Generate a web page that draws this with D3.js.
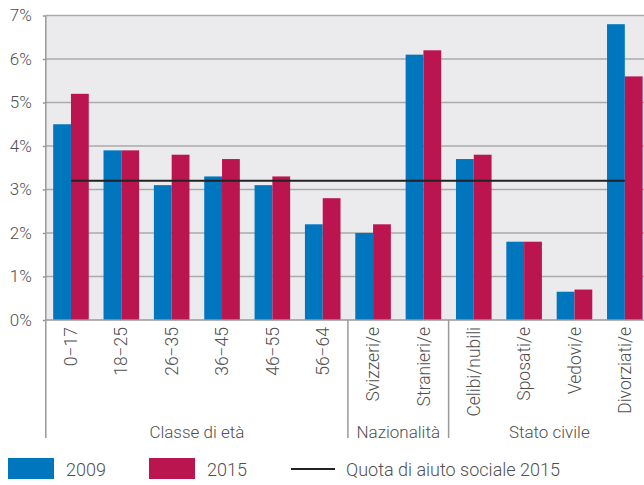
<!DOCTYPE html>
<html>
<head>
<meta charset="utf-8">
<script src="https://cdn.jsdelivr.net/npm/d3@7"></script>
<style>
  body { margin: 0; background: #fff; }
  text { font-family: Roboto, "Noto Sans", sans-serif; font-weight: 300; fill: #505050; }
</style>
</head>
<body>
<div class="graph"></div>
<script>
// categories and values (percent)
var categories = ["0\u221217", "18\u221225", "26\u221235", "36\u221245", "46\u221255", "56\u221264",
                  "Svizzeri/e", "Stranieri/e",
                  "Celibi/nubili", "Sposati/e", "Vedovi/e", "Divorziati/e"];
var values2009 = [4.5, 3.9, 3.1, 3.3, 3.1, 2.2, 2.0, 6.1, 3.7, 1.8, 0.65, 6.8];
var values2015 = [5.2, 3.9, 3.8, 3.7, 3.3, 2.8, 2.2, 6.2, 3.8, 1.8, 0.7, 5.6];
var quota2015 = 3.2;

// groups: label, first category index, last category index
var groupNames = ["Classe di et\u00e0", "Nazionalit\u00e0", "Stato civile"];
var groupStart = [0, 6, 8];
var groupEnd = [5, 7, 11];

var yTicks = [0, 1, 2, 3, 4, 5, 6, 7];
var seriesNames = ["2009", "2015"];
var lineName = "Quota di aiuto sociale 2015";

var colors = {"2009": "#0076be", "2015": "#bb1550"};

var W = 644, H = 485;
// plot box (right edge runs past the window, as in the original)
var plotLeft = 45.8, plotRight = 650, plotTop = 15.5, plotBottom = 320;

var svg = d3.select(".graph").append("svg")
    .attr("width", W)
    .attr("height", H);

// x scale for groups, inner scale for the two years
var pad = 0.293;
var x = d3.scaleBand()
    .domain(categories)
    .range([plotLeft, plotRight])
    .paddingInner(pad)
    .paddingOuter(pad / 2);

var xs = d3.scaleBand()
    .domain(seriesNames)
    .range([0, x.bandwidth()]);

var y = d3.scaleLinear().domain([0, 7]).range([plotBottom, plotTop]);

function center(i) { return x(categories[i]) + x.bandwidth() / 2; }
function edge(i) { return center(i) - x.step() / 2; }   // left edge of slot i

// plot background
svg.append("rect")
    .attr("x", plotLeft).attr("y", plotTop)
    .attr("width", plotRight - plotLeft).attr("height", plotBottom - plotTop)
    .attr("fill", "#ebebee");

// gridlines
svg.append("g").selectAll("line")
    .data(yTicks.slice(1))
    .join("line")
    .attr("x1", plotLeft).attr("x2", plotRight)
    .attr("y1", function(d) { return y(d); })
    .attr("y2", function(d) { return y(d); })
    .attr("stroke", "#aaa")
    .attr("stroke-width", 1.5);

// bars
var rows = categories.map(function(c, i) {
    return {cat: c, vals: [{s: "2009", v: values2009[i]}, {s: "2015", v: values2015[i]}]};
});

svg.append("g").selectAll("g")
    .data(rows)
    .join("g")
    .attr("transform", function(d) { return "translate(" + x(d.cat) + ",0)"; })
    .selectAll("rect")
    .data(function(d) { return d.vals; })
    .join("rect")
    .attr("x", function(d) { return xs(d.s); })
    .attr("width", xs.bandwidth())
    .attr("y", function(d) { return y(d.v); })
    .attr("height", function(d) { return plotBottom - y(d.v); })
    .attr("fill", function(d) { return colors[d.s]; });

// quota line from first to last group centre
svg.append("line")
    .attr("x1", center(0)).attr("x2", center(categories.length - 1))
    .attr("y1", y(quota2015)).attr("y2", y(quota2015))
    .attr("stroke", "#222")
    .attr("stroke-width", 2);

// y axis
var yAxis = d3.axisLeft(y)
    .tickValues(yTicks)
    .tickFormat(function(d) { return d + "%"; })
    .tickSize(3)
    .tickPadding(11);

var gy = svg.append("g")
    .attr("transform", "translate(" + plotLeft + ",0)")
    .call(yAxis);
gy.select(".domain").remove();
gy.selectAll("line").attr("stroke", "#999").attr("stroke-width", 1.5);
gy.selectAll("text").style("font-size", "17px").attr("fill", "#505050");

// x axis with rotated labels
var xAxis = d3.axisBottom(x).tickSize(0).tickPadding(0);
var gx = svg.append("g")
    .attr("transform", "translate(0," + plotBottom + ")")
    .call(xAxis);
gx.select(".domain").remove();
gx.selectAll("text")
    .style("font-size", "17.5px")
    .attr("fill", "#505050")
    .attr("text-anchor", "end")
    .attr("transform", "translate(0,7) rotate(-90)")
    .attr("x", 0).attr("y", 0)
    .attr("dy", "0.35em");

// axis lines
svg.append("line")
    .attr("x1", plotLeft).attr("x2", plotRight)
    .attr("y1", plotBottom).attr("y2", plotBottom)
    .attr("stroke", "#999").attr("stroke-width", 1.5);

var sepBottom = 438;
var seps = [0].concat(groupStart.slice(1));
svg.append("g").selectAll("line")
    .data(seps)
    .join("line")
    .attr("x1", function(d) { return edge(d); })
    .attr("x2", function(d) { return edge(d); })
    .attr("y1", function(d) { return d === 0 ? plotTop : plotBottom; })
    .attr("y2", sepBottom)
    .attr("stroke", "#999")
    .attr("stroke-width", 1.5);

// group labels
svg.append("g").selectAll("text")
    .data(groupNames)
    .join("text")
    .attr("x", function(d, i) {
        return (edge(groupStart[i]) + edge(groupEnd[i]) + x.step()) / 2;
    })
    .attr("y", sepBottom)
    .attr("text-anchor", "middle")
    .style("font-size", "17px")
    .text(function(d) { return d; });

// legend
var legend = svg.append("g");
var legendX = [8, 149];
seriesNames.forEach(function(s, i) {
    legend.append("rect")
        .attr("x", legendX[i]).attr("y", 458)
        .attr("width", 46).attr("height", 21)
        .attr("fill", colors[s]);
    legend.append("text")
        .attr("x", legendX[i] + 58).attr("y", 476)
        .style("font-size", "18px")
        .text(s);
});
legend.append("line")
    .attr("x1", 291).attr("x2", 335)
    .attr("y1", 469).attr("y2", 469)
    .attr("stroke", "#222").attr("stroke-width", 2);
legend.append("text")
    .attr("x", 346).attr("y", 476)
    .style("font-size", "18px")
    .text(lineName);
</script>
</body>
</html>
